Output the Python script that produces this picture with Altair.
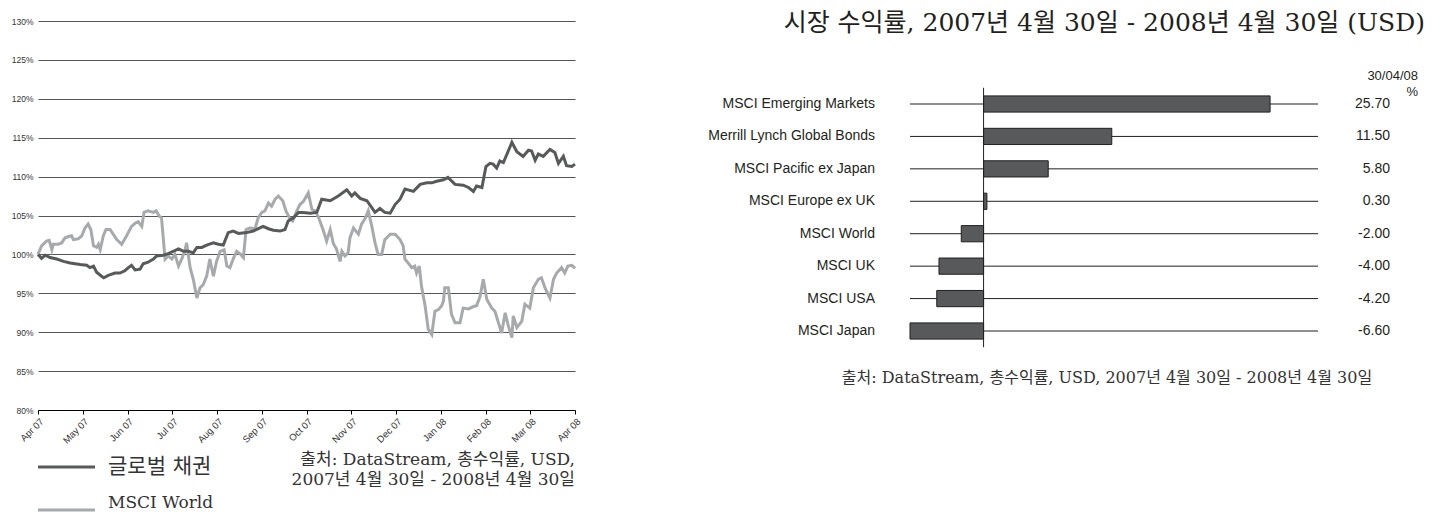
import altair as alt
import pandas as pd

# ---------------- data ----------------
month_labels = ["Apr 07", "May 07", "Jun 07", "Jul 07", "Aug 07", "Sep 07", "Oct 07",
                "Nov 07", "Dec 07", "Jan 08", "Feb 08", "Mar 08", "Apr 08"]
y_ticks = [80, 85, 90, 95, 100, 105, 110, 115, 120, 125, 130]

# 글로벌 채권 (months since Apr 07, index level %)
bond_m = [0.00, 0.08, 0.16, 0.27, 0.42, 0.57, 0.72, 0.94, 1.09, 1.16, 1.24, 1.31, 1.42, 1.47,
          1.57, 1.72, 1.83, 1.94, 2.02, 2.09, 2.17, 2.28, 2.35, 2.46, 2.58, 2.65, 2.80, 2.91,
          3.02, 3.14, 3.25, 3.36, 3.47, 3.55, 3.66, 3.77, 3.92, 4.03, 4.14, 4.25, 4.36, 4.48,
          4.66, 4.81, 4.96, 5.03, 5.15, 5.26, 5.41, 5.52, 5.59, 5.71, 5.82, 5.92, 6.08, 6.23,
          6.34, 6.53, 6.71, 6.90, 7.01, 7.08, 7.20, 7.35, 7.46, 7.53, 7.64, 7.75, 7.87, 7.98,
          8.09, 8.20, 8.39, 8.54, 8.69, 8.80, 8.91, 9.06, 9.16, 9.32, 9.50, 9.62, 9.73, 9.80,
          9.92, 10.01, 10.10, 10.17, 10.25, 10.32, 10.40, 10.59, 10.70, 10.84, 10.96, 11.03,
          11.11, 11.18, 11.29, 11.44, 11.55, 11.63, 11.74, 11.81, 11.93, 12.00]
bond_v = [100.0, 99.5, 99.9, 99.6, 99.4, 99.1, 98.9, 98.7, 98.6, 98.3, 98.5, 97.7, 97.2, 97.0,
          97.3, 97.6, 97.6, 97.9, 98.3, 98.6, 98.0, 98.1, 98.8, 99.0, 99.4, 99.8, 99.9, 100.1,
          100.4, 100.7, 100.4, 100.4, 100.2, 100.9, 100.9, 101.2, 101.5, 101.3, 101.2, 102.8,
          103.0, 102.7, 102.8, 103.0, 103.4, 103.6, 103.3, 103.1, 103.0, 103.2, 104.3, 104.7,
          105.4, 105.4, 105.3, 105.4, 107.1, 106.9, 107.5, 108.3, 107.5, 107.9, 107.2, 106.9,
          106.0, 105.4, 105.9, 105.4, 105.3, 106.4, 107.1, 108.4, 108.1, 109.0, 109.2, 109.2,
          109.4, 109.6, 109.9, 109.0, 108.9, 108.6, 108.1, 108.8, 108.6, 111.3, 111.7, 111.6,
          111.1, 112.0, 111.8, 114.4, 113.2, 112.6, 113.4, 113.3, 112.1, 112.9, 112.6, 113.5,
          113.1, 111.7, 112.6, 111.4, 111.3, 111.6]

# MSCI World
world_m = [0.00, 0.08, 0.19, 0.25, 0.31, 0.34, 0.45, 0.53, 0.60, 0.68, 0.75, 0.79, 0.90, 0.98,
           1.05, 1.12, 1.18, 1.24, 1.31, 1.35, 1.39, 1.46, 1.52, 1.61, 1.68, 1.76, 1.87, 1.98,
           2.09, 2.17, 2.24, 2.32, 2.37, 2.46, 2.58, 2.64, 2.71, 2.76, 2.84, 2.91, 2.99, 3.06,
           3.14, 3.21, 3.28, 3.32, 3.40, 3.47, 3.55, 3.62, 3.69, 3.77, 3.84, 3.92, 3.99, 4.07,
           4.16, 4.22, 4.29, 4.36, 4.44, 4.53, 4.59, 4.65, 4.74, 4.85, 4.92, 5.00, 5.07, 5.15,
           5.22, 5.30, 5.37, 5.47, 5.54, 5.62, 5.69, 5.77, 5.85, 5.93, 6.04, 6.12, 6.19, 6.26,
           6.38, 6.45, 6.53, 6.60, 6.67, 6.75, 6.79, 6.86, 6.93, 6.97, 7.05, 7.16, 7.23, 7.31,
           7.38, 7.46, 7.53, 7.60, 7.68, 7.75, 7.87, 7.98, 8.09, 8.16, 8.20, 8.27, 8.35, 8.42,
           8.46, 8.52, 8.57, 8.65, 8.72, 8.80, 8.87, 8.95, 9.02, 9.06, 9.09, 9.17, 9.24, 9.32,
           9.43, 9.50, 9.62, 9.73, 9.80, 9.88, 9.95, 10.03, 10.14, 10.21, 10.29, 10.36, 10.44,
           10.51, 10.59, 10.62, 10.70, 10.81, 10.88, 10.99, 11.07, 11.18, 11.25, 11.33, 11.44,
           11.52, 11.59, 11.70, 11.77, 11.84, 11.93, 12.00]
world_v = [100.0, 101.1, 101.7, 101.8, 100.6, 101.3, 101.3, 101.5, 102.1, 102.3, 102.4, 101.9,
           102.0, 102.4, 103.4, 103.9, 103.2, 101.1, 100.9, 101.3, 100.6, 102.4, 103.2, 103.2,
           102.6, 101.9, 101.3, 102.4, 103.6, 104.0, 104.2, 103.6, 105.4, 105.6, 105.4, 105.6,
           104.9, 104.7, 99.4, 99.8, 99.4, 100.0, 98.5, 99.4, 100.4, 101.5, 98.3, 96.8, 94.4,
           95.7, 96.1, 97.2, 99.4, 97.2, 99.1, 100.4, 100.6, 98.5, 98.3, 99.4, 100.4, 100.0,
           99.6, 103.2, 103.4, 103.3, 104.7, 105.4, 105.6, 106.6, 106.2, 107.1, 107.5, 106.9,
           105.6, 104.7, 104.3, 105.4, 106.4, 106.8, 107.9, 105.8, 105.6, 104.9, 103.0, 101.7,
           103.2, 101.4, 100.7, 99.1, 100.4, 99.8, 100.2, 102.1, 103.4, 102.6, 103.9, 104.6,
           105.6, 103.6, 101.5, 100.0, 100.0, 101.9, 102.6, 102.6, 101.9, 101.1, 99.4, 98.9,
           98.3, 98.5, 97.6, 98.5, 95.9, 93.4, 90.4, 89.7, 92.7, 92.9, 93.4, 94.0, 95.7, 95.7,
           92.3, 91.2, 91.2, 93.1, 93.0, 93.3, 93.4, 94.6, 96.8, 94.2, 93.1, 92.7, 91.2, 89.9,
           92.5, 90.8, 89.3, 92.1, 90.6, 91.4, 93.6, 93.1, 95.7, 96.8, 97.0, 95.7, 94.4, 96.8,
           97.6, 98.3, 97.6, 98.5, 98.6, 98.2]

series_names = ["글로벌 채권", "MSCI World"]
series_colors = ["#58595b", "#a7a9ac"]

categories = ["MSCI Emerging Markets", "Merrill Lynch Global Bonds", "MSCI Pacific ex Japan",
              "MSCI Europe ex UK", "MSCI World", "MSCI UK", "MSCI USA", "MSCI Japan"]
returns = [25.70, 11.50, 5.80, 0.30, -2.00, -4.00, -4.20, -6.60]
return_labels = ["25.70", "11.50", "5.80", "0.30", "-2.00", "-4.00", "-4.20", "-6.60"]

left_source = ["출처: DataStream, 총수익률, USD,", "2007년 4월 30일 - 2008년 4월 30일"]
right_title = "시장 수익률, 2007년 4월 30일 - 2008년 4월 30일 (USD)"
right_header = ["30/04/08", "%"]
right_source = "출처: DataStream, 총수익률, USD, 2007년 4월 30일 - 2008년 4월 30일"

# ---------------- styling ----------------
SANS = "Liberation Sans, Arial, sans-serif"
SERIF = "DejaVu Serif, 'Noto Sans CJK KR', serif"
W, H = 537, 389

bond_df = pd.DataFrame({"m": bond_m, "v": bond_v})
world_df = pd.DataFrame({"m": world_m, "v": world_v})

label_expr = "[" + ",".join("'%s'" % m for m in month_labels) + "][datum.value]"

xs = alt.Scale(domain=[0, 12], nice=False, zero=False)
ys = alt.Scale(domain=[80, 130], nice=False, zero=False)

x_axis = alt.Axis(values=list(range(13)), labelExpr=label_expr, labelAngle=315,
                  labelAlign="right", labelBaseline="top", labelFontSize=9.5,
                  labelFont=SANS, labelColor="#333333", labelPadding=2, tickSize=4,
                  tickColor="#000000", domainColor="#000000", grid=False, title=None)
y_axis = alt.Axis(values=y_ticks, labelExpr="datum.value + '%'", labelFontSize=8.5,
                  labelFont=SANS, labelColor="#333333", labelPadding=5, ticks=False,
                  domain=False, grid=True, gridColor="#555555", gridWidth=1.2, title=None)

world_line = alt.Chart(world_df).mark_line(strokeWidth=3, color=series_colors[1]).encode(
    x=alt.X("m:Q", scale=xs, axis=x_axis), y=alt.Y("v:Q", scale=ys, axis=y_axis))
bond_line = alt.Chart(bond_df).mark_line(strokeWidth=3, color=series_colors[0]).encode(
    x=alt.X("m:Q", scale=xs, axis=x_axis), y=alt.Y("v:Q", scale=ys, axis=y_axis))

legend_df = pd.DataFrame({"name": series_names, "color": series_colors,
                          "yy": [446, 489], "ty": [446, 482]})
legend_rule = alt.Chart(legend_df).mark_rule(strokeWidth=3).encode(
    x=alt.value(0), x2=alt.value(57), y=alt.Y("yy:Q", scale=None),
    color=alt.Color("color:N", scale=None))
legend_text_ko = alt.Chart(legend_df.iloc[[0]]).mark_text(
    align="left", baseline="middle", font=SERIF, fontSize=21, color="#333333").encode(
    x=alt.value(70), y=alt.Y("ty:Q", scale=None), text="name:N")
legend_text_en = alt.Chart(legend_df.iloc[[1]]).mark_text(
    align="left", baseline="middle", font=SERIF, fontSize=17, color="#333333").encode(
    x=alt.value(70), y=alt.Y("ty:Q", scale=None), text="name:N")

lsrc_df = pd.DataFrame({"t": left_source, "yy": [439, 459]})
left_src = alt.Chart(lsrc_df).mark_text(align="right", baseline="middle", font=SERIF,
                                        fontSize=17, color="#333333").encode(
    x=alt.value(W), y=alt.Y("yy:Q", scale=None), text="t:N")

left = alt.layer(world_line, bond_line, legend_rule, legend_text_ko, legend_text_en, left_src)

# ---------- right bar chart ----------
bar_df = pd.DataFrame({"cat": categories, "ret": returns, "lab": return_labels,
                       "row": list(range(len(categories)))})
XMIN, XMAX = -6.6, 30
xr = alt.Scale(domain=[XMIN, XMAX], range=[872, 1280], nice=False, zero=False)
yr = alt.Scale(domain=[0, 7], range=[83, 310], nice=False, zero=False)

base = alt.Chart(bar_df).transform_calculate(top="datum.row - 0.25", bot="datum.row + 0.25")

row_lines = base.mark_rule(color="#231f20", strokeWidth=1).encode(
    x=alt.X("xmin:Q", scale=xr, axis=None), x2="xmax:Q",
    y=alt.Y("row:Q", scale=yr, axis=None)).transform_calculate(xmin=str(XMIN), xmax=str(XMAX))
bars = base.mark_rect(color="#58595b", stroke="#231f20", strokeWidth=1).encode(
    x=alt.X("ret:Q", scale=xr, axis=None), x2="zero:Q",
    y=alt.Y("top:Q", scale=yr, axis=None), y2="bot:Q").transform_calculate(zero="0")
zero_line = alt.Chart(pd.DataFrame({"z": [0], "a": [-0.5], "b": [7.5]})).mark_rule(
    color="#231f20", strokeWidth=1).encode(
    x=alt.X("z:Q", scale=xr, axis=None), y=alt.Y("a:Q", scale=yr, axis=None), y2="b:Q")
cat_text = base.mark_text(align="right", baseline="middle", font=SANS, fontSize=14,
                          color="#231f20", dx=-35).encode(
    x=alt.X("xmin:Q", scale=xr, axis=None), y=alt.Y("row:Q", scale=yr, axis=None),
    text="cat:N").transform_calculate(xmin=str(XMIN))
val_text = base.mark_text(align="right", baseline="middle", font=SANS, fontSize=14,
                          color="#231f20", dx=72).encode(
    x=alt.X("xmax:Q", scale=xr, axis=None), y=alt.Y("row:Q", scale=yr, axis=None),
    text="lab:N").transform_calculate(xmax=str(XMAX))

hdr_df = pd.DataFrame({"t": right_header, "yy": [55, 71]})
hdr_text = alt.Chart(hdr_df).mark_text(align="right", baseline="middle", font=SANS,
                                       fontSize=13, color="#231f20").encode(
    x=alt.value(1380), y=alt.Y("yy:Q", scale=None), text="t:N")
title_text = alt.Chart(pd.DataFrame({"t": [right_title]})).mark_text(
    align="right", baseline="middle", font=SERIF, fontSize=25, color="#231f20").encode(
    x=alt.value(1387), y=alt.value(2), text="t:N")
rsrc_text = alt.Chart(pd.DataFrame({"t": [right_source]})).mark_text(
    align="center", baseline="middle", font=SERIF, fontSize=16, color="#333333").encode(
    x=alt.value(1069), y=alt.value(357), text="t:N")

right = alt.layer(row_lines, bars, zero_line, cat_text, val_text, hdr_text, title_text, rsrc_text)

chart = alt.layer(left, right).resolve_scale(x="independent", y="independent").properties(
    width=W, height=H,
    autosize=alt.AutoSizeParams(type="none"),
    padding={"left": 30, "top": 13, "right": 1420 - 30 - W, "bottom": 504 - 13 - H},
).configure(background="white").configure_view(stroke=None)

chart.save("out.html", embed_options={"renderer": "svg", "actions": False})
